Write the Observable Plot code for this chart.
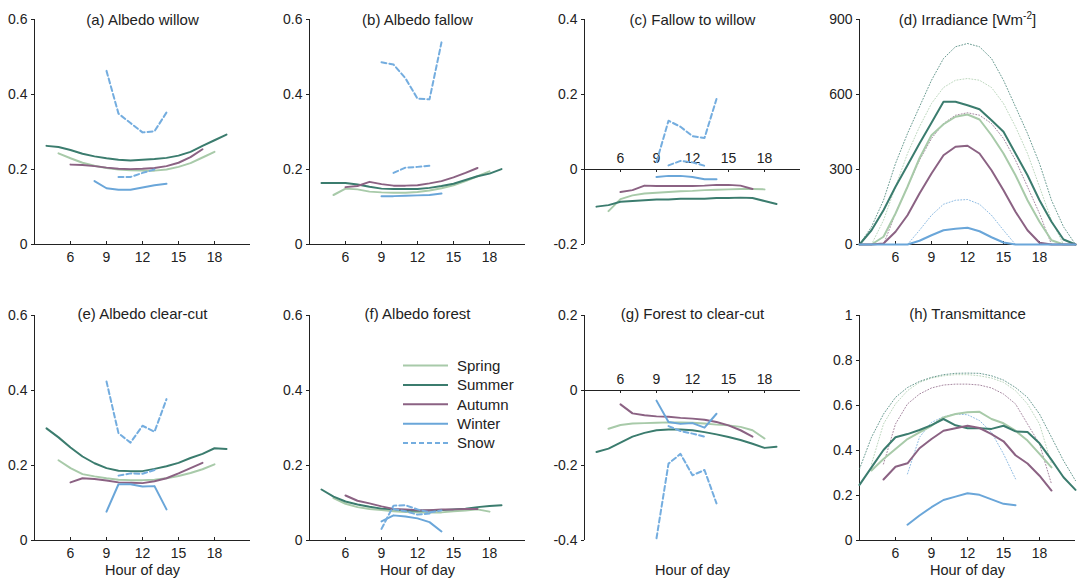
<!DOCTYPE html>
<html><head><meta charset="utf-8">
<script src="https://cdn.jsdelivr.net/npm/d3@7"></script>
<script src="https://cdn.jsdelivr.net/npm/@observablehq/plot@0.6"></script>
<style>
body{margin:0;background:#fff;}
#fig{position:relative;width:1082px;height:584px;background:#fff;overflow:hidden;font-family:"Liberation Sans",Arial,sans-serif;}
#fig svg{position:absolute;overflow:visible;}
</style></head><body><div id="fig"></div>
<script>
const _ = null;
const hours  = [3,4,5,6,7,8,9,10,11,12,13,14,15,16,17,18,19,20,21];
const xTicks = [6,9,12,15,18];
const seasons = ["Spring","Summer","Autumn","Winter","Snow"];

// (a) Albedo willow
const aSpring = [_,_,.243,.230,.218,.210,.204,.200,.198,.197,.197,.200,.207,.217,.232,.247,_,_,_];
const aSummer = [_,.263,.260,.252,.242,.235,.230,.226,.224,.226,.228,.231,.237,.247,.263,.278,.293,_,_];
const aAutumn = [_,_,_,.213,.212,.209,.205,.202,.201,.202,.204,.209,.218,.233,.254,_,_,_,_];
const aWinter = [_,_,_,_,_,.169,.150,.146,.146,.152,.158,.162,_,_,_,_,_,_,_];
const aSnow   = [_,_,_,_,_,_,.463,.349,.324,.299,.302,.352,_,_,_,_,_,_,_];
const aSnow2  = [_,_,_,_,_,_,_,.180,.180,.191,.200,_,_,_,_,_,_,_,_];
// (b) Albedo fallow
const bSpring = [_,_,.132,.149,.147,.141,.139,.138,.138,.140,.144,.150,.158,.169,.182,.195,_,_,_];
const bSummer = [_,.164,.164,.164,.160,.154,.149,.148,.148,.148,.151,.156,.162,.172,.182,.189,.201,_,_];
const bAutumn = [_,_,_,.153,.156,.167,.161,.157,.157,.158,.163,.169,.179,.191,.204,_,_,_,_];
const bWinter = [_,_,_,_,_,_,.129,.129,.130,.131,.132,.136,_,_,_,_,_,_,_];
const bSnow   = [_,_,_,_,_,_,.486,.480,.443,.389,.387,.539,_,_,_,_,_,_,_];
const bSnow2  = [_,_,_,_,_,_,_,.191,.205,.207,.210,_,_,_,_,_,_,_,_];
// (c) Fallow to willow
const cSpring = [_,_,-.111,-.079,-.069,-.064,-.062,-.060,-.058,-.057,-.055,-.054,-.053,-.052,-.052,-.053,_,_,_];
const cSummer = [_,-.099,-.095,-.086,-.084,-.082,-.080,-.080,-.078,-.078,-.078,-.076,-.076,-.075,-.076,-.084,-.092,_,_];
const cAutumn = [_,_,_,-.060,-.055,-.043,-.044,-.044,-.044,-.044,-.043,-.041,-.041,-.043,-.052,_,_,_,_];
const cWinter = [_,_,_,_,_,_,-.020,-.017,-.017,-.020,-.026,-.026,_,_,_,_,_,_,_];
const cSnow   = [_,_,_,_,_,_,.020,.130,.114,.089,.084,.188,_,_,_,_,_,_,_];
const cSnow2  = [_,_,_,_,_,_,_,.011,.023,.019,.010,_,_,_,_,_,_,_,_];
// (d) Irradiance (solid = measured, dotted = clear sky)
const dSpring = [0,0,31,124,231,345,437,481,511,520,500,437,364,277,177,91,17,0,0];
const dSummer = [0,57,137,231,317,404,487,571,571,557,541,497,451,364,277,177,91,20,0];
const dAutumn = [0,0,4,51,117,204,284,357,391,395,364,297,217,131,57,7,0,0,0];
const dWinter = [0,0,0,0,0,15,37,57,63,67,53,29,8,0,0,0,0,0,0];
const dSpringClear = [_,0,97,231,364,471,564,628,657,664,657,628,564,471,364,231,97,0,_];
const dSummerClear = [0,71,177,324,444,551,657,744,791,804,791,744,657,551,444,324,177,71,0];
const dAutumnClear = [_,_,0,124,231,337,424,484,517,527,517,484,424,337,231,124,0,_,_];
const dWinterClear = [_,_,_,_,0,57,117,161,177,180,161,117,57,0,_,_,_,_,_];
// (e) Albedo clear-cut
const eSpring = [_,_,.214,.193,.177,.171,.166,.162,.161,.161,.162,.166,.172,.180,.190,.203,_,_,_];
const eSummer = [_,.299,.275,.248,.224,.206,.193,.186,.185,.185,.191,.198,.207,.220,.231,.246,.244,_,_];
const eAutumn = [_,_,_,.155,.166,.164,.160,.155,.154,.153,.158,.166,.179,.193,.207,_,_,_,_];
const eWinter = [_,_,_,_,_,_,.077,.150,.150,.144,.145,.083,_,_,_,_,_,_,_];
const eSnow   = [_,_,_,_,_,_,.424,.286,.261,.306,.290,.377,_,_,_,_,_,_,_];
const eSnow2  = [_,_,_,_,_,_,_,.173,.179,.178,.188,_,_,_,_,_,_,_,_];
// (f) Albedo forest
const fSpring = [_,_,.113,.098,.089,.084,.081,.078,.076,.075,.075,.075,.078,.080,.083,.077,_,_,_];
const fSummer = [_,.136,.117,.104,.096,.090,.085,.083,.080,.079,.080,.081,.083,.085,.089,.092,.094,_,_];
const fAutumn = [_,_,_,.120,.106,.099,.091,.084,.083,.081,.081,.083,.083,.084,.084,_,_,_,_];
const fWinter = [_,_,_,_,_,_,.051,.067,.064,.059,.049,.024,_,_,_,_,_,_,_];
const fSnow   = [_,_,_,_,_,_,.031,.093,.094,.083,.075,.080,_,_,_,_,_,_,_];
const fSnow2  = [_,_,_,_,_,_,_,.084,.078,.069,.072,_,_,_,_,_,_,_,_];
// (g) Forest to clear-cut
const gSpring = [_,_,-.102,-.092,-.088,-.087,-.086,-.085,-.085,-.086,-.088,-.091,-.093,-.097,-.106,-.128,_,_,_];
const gSummer = [_,-.164,-.155,-.139,-.123,-.113,-.106,-.104,-.104,-.106,-.111,-.117,-.124,-.132,-.142,-.153,-.150,_,_];
const gAutumn = [_,_,_,-.037,-.061,-.066,-.069,-.070,-.073,-.075,-.078,-.084,-.093,-.106,-.123,_,_,_,_];
const gWinter = [_,_,_,_,_,_,-.027,-.084,-.089,-.087,-.099,-.062,_,_,_,_,_,_,_];
const gSnow   = [_,_,_,_,_,_,-.394,-.195,-.169,-.226,-.212,-.301,_,_,_,_,_,_,_];
const gSnow2  = [_,_,_,_,_,_,_,-.095,-.108,-.115,-.123,_,_,_,_,_,_,_,_];
// (h) Transmittance (solid = measured, dotted = clear sky)
const hSpring = [_,.311,.362,.407,.451,.481,.510,.547,.562,.570,.572,.540,.521,.488,.444,.385,.325,_,_];
const hSummer = [.247,.325,.402,.459,.473,.491,.513,.540,.512,.499,.499,.496,.510,.485,.482,.432,.358,.281,.225];
const hAutumn = [_,_,.271,.328,.343,.410,.451,.488,.499,.510,.500,.473,.441,.379,.342,.288,.222,_,_];
const hWinter = [_,_,_,_,.070,.111,.148,.180,.195,.210,.203,.183,.163,.157,_,_,_,_,_];
const hSpringClear = [_,.340,.518,.607,.666,.703,.722,.732,.737,.737,.732,.722,.703,.666,.607,.518,.340,_,_];
const hSummerClear = [.318,.459,.562,.636,.680,.707,.725,.737,.743,.744,.743,.732,.713,.680,.636,.562,.459,.355,.266];
const hAutumnClear = [_,_,.340,.518,.607,.651,.678,.691,.695,.695,.691,.678,.651,.607,.518,.429,.251,_,_];
const hWinterClear = [_,_,_,_,.296,.459,.525,.550,.562,.559,.533,.481,.385,.274,_,_,_,_,_];

const COL = {Spring:"#a8caa9", Summer:"#3b7c6e", Autumn:"#8b6283", Winter:"#6aa6d9", Snow:"#74addf"};
const FONT = '"Liberation Sans", Arial, sans-serif';

const panels = [
  {t:"(a) Albedo willow", col:0,row:0, dom:[0,.6], yt:[0,.2,.4,.6], s:[aSpring,aSummer,aAutumn,aWinter,aSnow,aSnow2]},
  {t:"(b) Albedo fallow", col:1,row:0, dom:[0,.6], yt:[0,.2,.4,.6], s:[bSpring,bSummer,bAutumn,bWinter,bSnow,bSnow2]},
  {t:"(c) Fallow to willow", col:2,row:0, dom:[-.2,.4], yt:[-.2,0,.2,.4], zero:true, s:[cSpring,cSummer,cAutumn,cWinter,cSnow,cSnow2]},
  {t:"(d) Irradiance [Wm-2]", col:3,row:0, dom:[0,900], yt:[0,300,600,900], s:[dSpring,dSummer,dAutumn,dWinter], clear:[dSpringClear,dSummerClear,dAutumnClear,dWinterClear]},
  {t:"(e) Albedo clear-cut", col:0,row:1, dom:[0,.6], yt:[0,.2,.4,.6], s:[eSpring,eSummer,eAutumn,eWinter,eSnow,eSnow2]},
  {t:"(f) Albedo forest", col:1,row:1, dom:[0,.6], yt:[0,.2,.4,.6], s:[fSpring,fSummer,fAutumn,fWinter,fSnow,fSnow2]},
  {t:"(g) Forest to clear-cut", col:2,row:1, dom:[-.4,.2], yt:[-.4,-.2,0,.2], zero:true, s:[gSpring,gSummer,gAutumn,gWinter,gSnow,gSnow2]},
  {t:"(h) Transmittance", col:3,row:1, dom:[0,1], yt:[0,.2,.4,.6,.8,1], s:[hSpring,hSummer,hAutumn,hWinter], clear:[hSpringClear,hSummerClear,hAutumnClear,hWinterClear]}
];

const fig = document.getElementById("fig");
const seriesNames = ["Spring","Summer","Autumn","Winter","Snow","Snow"];
const clearNames = ["Spring","Summer","Autumn","Winter"];

for (const p of panels) {
  const top = p.row === 0 ? 0 : 290;
  const H = p.row === 0 ? 290 : 294;
  const mTop = p.row === 0 ? 19 : 25;
  const mBottom = H - mTop - 225;
  const base = p.zero ? 0 : p.dom[0];
  const marks = [];
  marks.push(Plot.ruleX([3], {stroke:"#222", strokeWidth:1}));
  marks.push(Plot.ruleY([base], {stroke:"#222", strokeWidth:1}));
  marks.push(Plot.axisY({ticks:p.yt, tickSize:3, tickPadding:4, tickFormat:d=>String(d), label:null, fontSize:14, stroke:"#222", color:"#222"}));
  if (p.zero) {
    marks.push(Plot.ruleX(xTicks, {x:d=>d, y1:base, y2:base, insetBottom:-3, stroke:"#222"}));
    marks.push(Plot.text(xTicks, {x:d=>d, y:base, dy:-11, text:d=>String(d), fontSize:14, fill:"#222"}));
  } else {
    marks.push(Plot.ruleX(xTicks, {x:d=>d, y1:base, y2:base, insetTop:-3, stroke:"#222"}));
    marks.push(Plot.text(xTicks, {x:d=>d, y:base, dy:13, text:d=>String(d), fontSize:14, fill:"#222"}));
  }
  (p.clear||[]).forEach((v,i) => {
    marks.push(Plot.line(v, {x:hours, y:v, stroke:COL[clearNames[i]], strokeWidth:0.9, strokeDasharray:"1,2", strokeOpacity:0.85}));
  });
  p.s.forEach((v,i) => {
    const name = seriesNames[i];
    marks.push(Plot.line(v, {x:hours, y:v, stroke:COL[name], strokeWidth:2, strokeDasharray: name==="Snow" ? "5,3" : null}));
  });
  marks.push(Plot.text([p.t], {frameAnchor:"top", dy:p.row===0?-5:-7, text:d=>d, fontSize:15, fill:"#222"}));
  if (p.row === 1) {
    marks.push(Plot.text(["Hour of day"], {frameAnchor:"bottom", dy:34.5, text:d=>d, fontSize:14.5, fill:"#222"}));
  }
  const svg = Plot.plot({
    width:275, height:H, marginLeft:34, marginRight:25, marginTop:mTop, marginBottom:mBottom,
    x:{domain:[3,21], axis:null},
    y:{domain:p.dom},
    style:{fontFamily:FONT, fontSize:"14px", background:"transparent", color:"#222"},
    marks
  });
  svg.style.left = (p.col*275) + "px";
  svg.style.top = top + "px";
  fig.appendChild(svg);
  // superscript for units
  svg.querySelectorAll("text").forEach(t => {
    if (t.textContent === "(d) Irradiance [Wm-2]") {
      t.textContent = "(d) Irradiance [Wm";
      const sup = document.createElementNS("http://www.w3.org/2000/svg","tspan");
      sup.setAttribute("dy","-6"); sup.setAttribute("font-size","10"); sup.textContent = "-2";
      const end = document.createElementNS("http://www.w3.org/2000/svg","tspan");
      end.setAttribute("dy","6"); end.textContent = "]";
      t.appendChild(sup); t.appendChild(end);
    }
  });
}

// legend inside panel (f)
const leg = d3.select(fig).append("svg").attr("width",1082).attr("height",584).style("left","0px").style("top","0px")
  .style("font-family", FONT);
seasons.forEach((s,i) => {
  const y = 365.5 + i*19.4;
  leg.append("line").attr("x1",403).attr("x2",448).attr("y1",y).attr("y2",y)
    .attr("stroke",COL[s]).attr("stroke-width",2).attr("stroke-dasharray", s==="Snow" ? "5,3" : null);
  leg.append("text").attr("x",457).attr("y",y).attr("dy","0.35em").attr("font-size",15).attr("fill","#222").text(s);
});
</script></body></html>
